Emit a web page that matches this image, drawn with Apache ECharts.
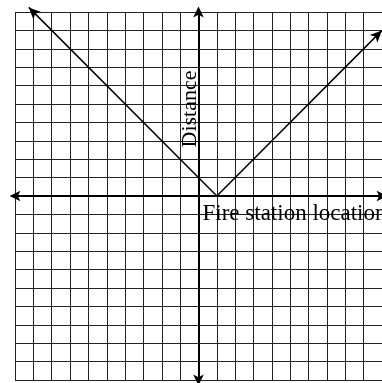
<!DOCTYPE html>
<html>
<head>
<meta charset="utf-8">
<script src="https://cdn.jsdelivr.net/npm/echarts@6/dist/echarts.min.js"></script>
<style>
  html, body { margin: 0; padding: 0; background: #fff; }
  #chart { width: 382px; height: 383px; }
</style>
</head>
<body>
<div id="chart"></div>
<script>
// axis ranges (one grid square = 1 unit)
const xRange = [-10, 10];
const yRange = [-10, 10];
const gridStep = 1;

// the V: distance = |location - 1|
const lineX = [-9.25, 1, 10];
const lineY = [10.25, 0, 9];

const xName = "Fire station location";
const yName = "Distance";

const chart = echarts.init(document.getElementById("chart"));

const serif = "'Liberation Serif', 'Times New Roman', serif";
const arrowRot = [45, 0, -45];

const lineData = lineX.map((x, i) => {
  const end = i === 0 || i === lineX.length - 1;
  return {
    value: [x, lineY[i]],
    symbol: end ? "arrow" : "none",
    symbolRotate: arrowRot[i]
  };
});

const axisCommon = {
  type: "value",
  interval: gridStep,
  axisLabel: { show: false },
  axisTick: { show: false },
  axisLine: {
    show: true,
    onZero: true,
    symbol: ["arrow", "arrow"],
    symbolSize: [8, 11],
    symbolOffset: [-5.5, 5.5],
    lineStyle: { color: "#000", width: 2 }
  },
  splitLine: {
    show: true,
    showMinLine: true,
    showMaxLine: true,
    lineStyle: { color: "#222", width: 1 }
  }
};

const option = {
  animation: false,
  backgroundColor: "#fff",
  grid: { left: 15, right: 0, top: 12, bottom: 3, containLabel: false },
  xAxis: Object.assign({}, axisCommon, { min: xRange[0], max: xRange[1] }),
  yAxis: Object.assign({}, axisCommon, { min: yRange[0], max: yRange[1] }),
  series: [
    {
      type: "line",
      data: lineData,
      clip: false,
      showSymbol: true,
      symbolSize: [8, 12],
      lineStyle: { color: "#000", width: 1.5 },
      itemStyle: { color: "#000" },
      z: 5
    }
  ],
  graphic: [
    {
      type: "text",
      x: 190,
      y: 109,
      rotation: Math.PI / 2,
      style: {
        text: yName,
        font: "22px " + serif,
        fill: "#000",
        textAlign: "center",
        textVerticalAlign: "middle"
      },
      z: 10
    },
    {
      type: "text",
      x: 202.5,
      y: 213.5,
      style: {
        text: xName,
        font: "23px " + serif,
        fill: "#000",
        textAlign: "left",
        textVerticalAlign: "middle"
      },
      z: 10
    }
  ]
};

option && chart.setOption(option);
</script>
</body>
</html>
